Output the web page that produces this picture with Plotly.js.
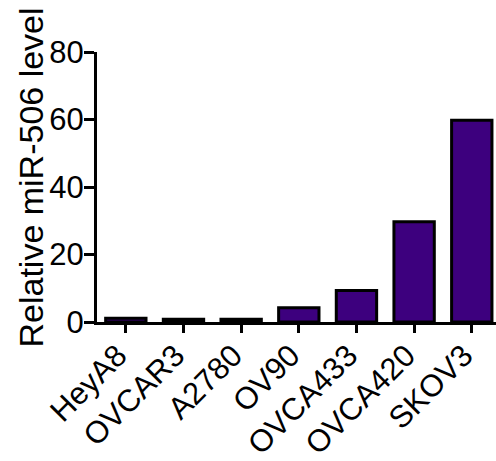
<!DOCTYPE html>
<html>
<head>
<meta charset="utf-8">
<script src="https://cdn.plot.ly/plotly-3.0.1.min.js"></script>
<style>html,body{margin:0;padding:0;background:#fff;}#chart{width:496px;height:461px;}</style>
</head>
<body>
<div id="chart"></div>
<script>
const categories = ["HeyA8", "OVCAR3", "A2780", "OV90", "OVCA433", "OVCA420", "SKOV3"];
const values = [1.1, 0.8, 0.8, 4.2, 9.3, 29.7, 59.8];
const yTicks = [0, 20, 40, 60, 80];
const yTitle = "Relative miR-506 level";

const FONT = "Liberation Sans, Arial, sans-serif";

const trace = {
  type: "bar",
  x: categories,
  y: values,
  width: 0.7,
  marker: {color: "#3d007e", line: {color: "#000000", width: 3}},
  hoverinfo: "skip"
};

const layout = {
  width: 496, height: 461,
  margin: {l: 97, r: 0, t: 52, b: 139},
  paper_bgcolor: "#ffffff", plot_bgcolor: "#ffffff",
  font: {family: FONT, color: "#000000"},
  showlegend: false,
  bargap: 0.3,
  xaxis: {
    type: "category",
    range: [-0.5, 6.42],
    showline: true, linecolor: "#000", linewidth: 3,
    ticks: "outside", ticklen: 8, tickwidth: 3, tickcolor: "#000",
    tickangle: -45,
    ticklabelstandoff: -8,
    ticklabelshift: -8,
    tickfont: {size: 31, family: FONT},
    showgrid: false, zeroline: false, automargin: false
  },
  yaxis: {
    range: [0, 80],
    tickvals: yTicks,
    ticktext: yTicks.map(String),
    showline: true, linecolor: "#000", linewidth: 3,
    ticks: "outside", ticklen: 10, tickwidth: 3, tickcolor: "#000",
    ticklabelstandoff: -6,
    tickfont: {size: 31, family: FONT},
    showgrid: false, zeroline: false, automargin: false
  },
  annotations: [{
    text: yTitle,
    textangle: -90,
    xref: "paper", x: 0, xanchor: "center", xshift: -66,
    yref: "y", y: 42.8, yanchor: "middle",
    showarrow: false,
    font: {size: 34, family: FONT, color: "#000"}
  }]
};

Plotly.newPlot("chart", [trace], layout, {displayModeBar: false, staticPlot: true});
</script>
</body>
</html>
